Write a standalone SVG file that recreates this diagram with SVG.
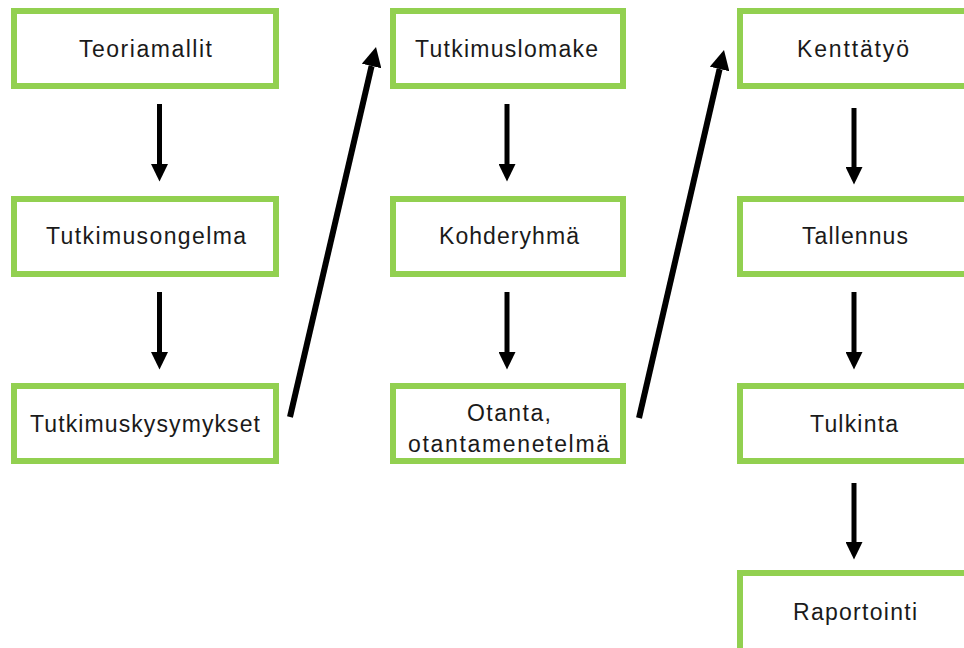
<svg xmlns="http://www.w3.org/2000/svg" width="964" height="648" viewBox="0 0 964 648">
  <defs>
    <marker id="head" markerUnits="userSpaceOnUse" markerWidth="18" markerHeight="17" refX="0" refY="8.5" orient="auto">
      <path d="M0,0 L17.5,8.5 L0,17 z" fill="#000"/>
    </marker>
    <marker id="head-lg" markerUnits="userSpaceOnUse" markerWidth="20" markerHeight="20" refX="0" refY="10" orient="auto">
      <path d="M0,0 L19.5,10 L0,20 z" fill="#000"/>
    </marker>
    <style>
      .box rect { fill: #fff; stroke: #92D050; stroke-width: 6; }
      .box text { font-family: "Liberation Sans", Arial, sans-serif; font-size: 23px; fill: #1a1a1a; text-anchor: middle; }
      #connectors line { stroke: #000; stroke-width: 5; marker-end: url(#head); }
      #connectors line.diag { stroke-width: 6; marker-end: url(#head-lg); }
    </style>
  </defs>
  <rect width="964" height="648" fill="#fff"/>

  <!-- column 1 -->
  <g id="teoriamallit" class="box">
    <rect x="14" y="11" width="262" height="75"/>
    <text x="145.5" y="57" textLength="133" lengthAdjust="spacing">Teoriamallit</text>
  </g>
  <g id="tutkimusongelma" class="box">
    <rect x="14" y="199" width="262" height="75"/>
    <text x="146" y="244" textLength="200" lengthAdjust="spacing">Tutkimusongelma</text>
  </g>
  <g id="tutkimuskysymykset" class="box">
    <rect x="14" y="386" width="262" height="75"/>
    <text x="145" y="432" textLength="230" lengthAdjust="spacing">Tutkimuskysymykset</text>
  </g>

  <!-- column 2 -->
  <g id="tutkimuslomake" class="box">
    <rect x="393" y="11" width="230" height="75"/>
    <text x="506.5" y="57" textLength="183" lengthAdjust="spacing">Tutkimuslomake</text>
  </g>
  <g id="kohderyhma" class="box">
    <rect x="393" y="199" width="230" height="75"/>
    <text x="509" y="244" textLength="140" lengthAdjust="spacing">Kohderyhmä</text>
  </g>
  <g id="otanta" class="box">
    <rect x="393" y="386" width="230" height="75"/>
    <text x="509" y="421" textLength="84" lengthAdjust="spacing">Otanta,</text>
    <text x="508.5" y="452" textLength="201" lengthAdjust="spacing">otantamenetelmä</text>
  </g>

  <!-- column 3 (runs past the right and bottom edges) -->
  <g id="kenttatyo" class="box">
    <rect x="740" y="11" width="234" height="75"/>
    <text x="853" y="57" textLength="112" lengthAdjust="spacing">Kenttätyö</text>
  </g>
  <g id="tallennus" class="box">
    <rect x="740" y="199" width="234" height="75"/>
    <text x="855" y="244" textLength="106" lengthAdjust="spacing">Tallennus</text>
  </g>
  <g id="tulkinta" class="box">
    <rect x="740" y="386" width="234" height="75"/>
    <text x="854" y="432" textLength="88" lengthAdjust="spacing">Tulkinta</text>
  </g>
  <g id="raportointi" class="box">
    <rect x="740" y="573" width="234" height="82"/>
    <text x="855" y="620" textLength="124" lengthAdjust="spacing">Raportointi</text>
  </g>

  <g id="connectors">
    <line x1="159.5" y1="104" x2="159.5" y2="164"/>
    <line x1="159.5" y1="292" x2="159.5" y2="352"/>
    <line x1="507" y1="104" x2="507" y2="164"/>
    <line x1="507" y1="292" x2="507" y2="352"/>
    <line x1="854" y1="108" x2="854" y2="167"/>
    <line x1="854" y1="292" x2="854" y2="352"/>
    <line x1="854" y1="483" x2="854" y2="542"/>
    <line class="diag" x1="290" y1="417" x2="371.6" y2="66"/>
    <line class="diag" x1="639" y1="418" x2="719.6" y2="69"/>
  </g>
</svg>
